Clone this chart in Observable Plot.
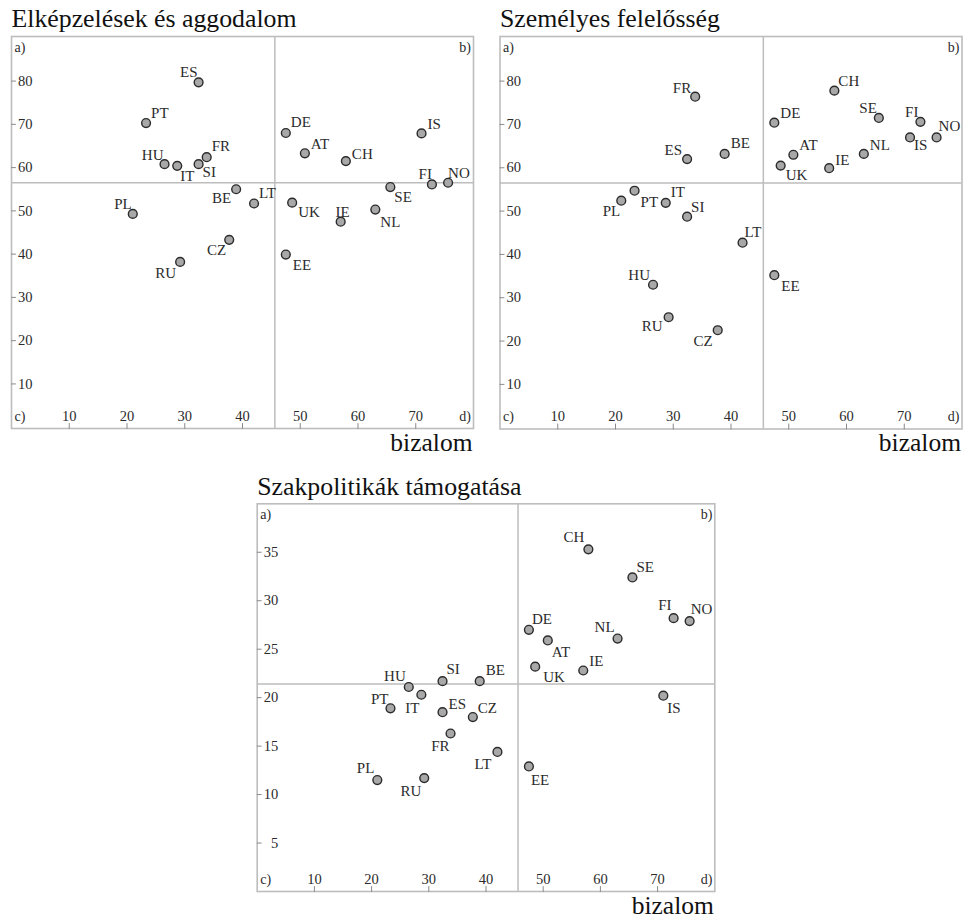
<!DOCTYPE html>
<html>
<head>
<meta charset="utf-8">
<script src="https://cdn.jsdelivr.net/npm/d3@7"></script>
<script src="https://cdn.jsdelivr.net/npm/@observablehq/plot@0.6"></script>
<style>
  html, body { margin: 0; padding: 0; background: #fff; }
  #chart { position: relative; width: 963px; height: 921px; overflow: hidden; background: #fff; }
  #chart svg { position: absolute; overflow: visible; max-width: none; }
</style>
</head>
<body>
<div id="chart"></div>
<script>
// ---- data ----
const countries = ["PL","PT","HU","IT","RU","ES","SI","FR","CZ","BE","LT","EE","DE","UK","AT","IE","CH","NL","SE","IS","FI","NO"];
const trust =          [21.0,23.3,26.5,28.7,29.2,32.4,32.4,33.8,37.7,38.9,42.0,47.5,47.5,48.6,50.8,57.0,57.9,63.0,65.6,71.0,72.8,75.6];
const concern =        [49.3,70.3,60.8,60.4,38.2,79.7,60.8,62.4,43.3,55.0,51.7,39.9,68.0,51.9,63.3,47.5,61.5,50.3,55.5,67.9,56.1,56.5];
const responsibility = [52.4,54.7,33.0,51.9,25.5,62.0,48.7,76.4,22.5,63.2,42.7,35.2,70.4,60.5,63.0,59.9,77.8,63.2,71.5,67.0,70.6,67.0];
const support =        [11.5,18.9,21.1,20.3,11.7,18.5,21.7,16.3,18.0,21.7,14.4,12.9,27.0,23.2,25.9,22.8,35.3,26.1,32.4,20.2,28.2,27.9];

const titles = ["Elképzelések és aggodalom", "Személyes felelősség", "Szakpolitikák támogatása"];
const xLabel = "bizalom";
const xTicks = [10,20,30,40,50,60,70];
const yTicksA = [10,20,30,40,50,60,70,80];
const yTicksC = [5,10,15,20,25,30,35];
const quadrantLabels = ["a)","b)","c)","d)"];
// quadrant split lines
const splitX = 45.6;
const splitYA = 56.5, splitYB = 56.5, splitYC = 21.4;

// ---- label placement (dx, dy to baseline, anchor) ----
const offA = {ES:[-1,-5,"end"],PT:[5,-5,"start"],HU:[-1,-4,"end"],IT:[3,15,"start"],SI:[4,13,"start"],FR:[5,-6,"start"],
  BE:[-5,14,"end"],LT:[5,-6,"start"],PL:[-1,-5,"end"],RU:[-4,16,"end"],CZ:[-3,15,"end"],DE:[5,-6,"start"],AT:[6,-4,"start"],
  CH:[6,-2,"start"],IS:[6,-4,"start"],FI:[0,-5,"end"],NO:[0,-5,"start"],SE:[4,15,"start"],UK:[6,14,"start"],IE:[2,-5,"middle"],
  NL:[5,17,"start"],EE:[7,15,"start"]};
const offB = {FR:[-4,-4,"end"],ES:[-5,-4,"end"],BE:[6,-6,"start"],CH:[4,-5,"start"],DE:[6,-5,"start"],SE:[-2,-5,"end"],
  FI:[-2,-5,"end"],NO:[2,-6,"start"],IS:[4,13,"start"],AT:[6,-5,"start"],UK:[5,14,"start"],IE:[6,-3,"start"],NL:[6,-4,"start"],
  PL:[-1,15,"end"],PT:[6,16,"start"],IT:[5,-6,"start"],SI:[4,-5,"start"],LT:[2,-6,"start"],HU:[-3,-5,"end"],EE:[7,16,"start"],
  RU:[-6,14,"end"],CZ:[-5,16,"end"]};
const offC = {CH:[-4,-7,"end"],SE:[4,-5,"start"],FI:[-2,-8,"end"],NO:[1,-7,"start"],DE:[3,-6,"start"],AT:[4,17,"start"],
  NL:[-3,-7,"end"],UK:[8,15,"start"],IE:[6,-5,"start"],HU:[-3,-6,"end"],SI:[4,-7,"start"],BE:[6,-6,"start"],IT:[-2,18,"end"],
  IS:[4,17,"start"],PT:[-2,-4,"end"],ES:[6,-3,"start"],CZ:[5,-4,"start"],FR:[-1,17,"end"],LT:[-6,17,"end"],EE:[2,19,"start"],
  PL:[-3,-7,"end"],RU:[-3,18,"end"]};

const FONT = "Liberation Serif";
const GRID = "#bdbdbd";
const INK = "#2b2b2b";
const tickLine = {draw(ctx, l) { ctx.moveTo(0, 0); ctx.lineTo(0, -l); }};

function panel({values, yDomain, yTicks, splitY, offsets, title, left, top, width, height, margin}) {
  const rows = countries.map((c, i) => ({code: c, trust: trust[i], v: values[i]}));
  const labelMarks = rows.map(r => {
    const [dx, dy, anchor] = offsets[r.code];
    return Plot.text([r], {x: "trust", y: "v", text: "code", dx, dy, textAnchor: anchor, lineAnchor: "bottom",
      fontSize: 15, fill: INK, fontFamily: FONT});
  });
  const svg = Plot.plot({
    width, height,
    marginLeft: margin[3], marginRight: margin[1], marginTop: margin[0], marginBottom: margin[2],
    style: {background: "transparent", overflow: "visible", fontFamily: FONT},
    x: {domain: [0, 80], axis: null},
    y: {domain: yDomain, axis: null},
    marks: [
      Plot.ruleX([splitX], {stroke: GRID, strokeWidth: 1.5}),
      Plot.ruleY([splitY], {stroke: GRID, strokeWidth: 1.5}),
      Plot.frame({stroke: GRID, strokeWidth: 1.6}),
      // y ticks (inside, left) and labels
      Plot.vector(yTicks, {y: d => d, frameAnchor: "left", rotate: 90, length: 4, anchor: "start", shape: tickLine, stroke: "#8a8a8a", strokeWidth: 1}),
      Plot.text(yTicks, {y: d => d, frameAnchor: "left", text: d => String(d), dx: 21, textAnchor: "end", lineAnchor: "middle", fontSize: 14.5, fill: INK, fontFamily: FONT}),
      // x ticks (inside, bottom) and labels
      Plot.vector(xTicks, {x: d => d, frameAnchor: "bottom", rotate: 0, length: 5, anchor: "start", shape: tickLine, stroke: "#8a8a8a", strokeWidth: 1}),
      Plot.text(xTicks, {x: d => d, frameAnchor: "bottom", text: d => String(d), dy: -8, textAnchor: "middle", lineAnchor: "bottom", fontSize: 14.5, fill: INK, fontFamily: FONT}),
      // quadrant letters
      Plot.text([quadrantLabels[0]], {text: d => d, frameAnchor: "top-left", dx: 3, dy: 15, textAnchor: "start", lineAnchor: "bottom", fontSize: 14, fill: INK, fontFamily: FONT}),
      Plot.text([quadrantLabels[1]], {text: d => d, frameAnchor: "top-right", dx: -2.5, dy: 15, textAnchor: "end", lineAnchor: "bottom", fontSize: 14, fill: INK, fontFamily: FONT}),
      Plot.text([quadrantLabels[2]], {text: d => d, frameAnchor: "bottom-left", dx: 3, dy: -8, textAnchor: "start", lineAnchor: "bottom", fontSize: 14, fill: INK, fontFamily: FONT}),
      Plot.text([quadrantLabels[3]], {text: d => d, frameAnchor: "bottom-right", dx: -2.5, dy: -8, textAnchor: "end", lineAnchor: "bottom", fontSize: 14, fill: INK, fontFamily: FONT}),
      // title and x label
      Plot.text([title], {text: d => d, frameAnchor: "top-left", dy: -9.3, textAnchor: "start", lineAnchor: "bottom", fontSize: 25.8, fill: "#111", fontFamily: FONT}),
      Plot.text([xLabel], {text: d => d, frameAnchor: "bottom-right", dy: 22, dx: -1, textAnchor: "end", lineAnchor: "bottom", fontSize: 25.5, fill: "#111", fontFamily: FONT}),
      // points
      Plot.dot(rows, {x: "trust", y: "v", r: 4.4, fill: "#a8a8a8", stroke: INK, strokeWidth: 1.4}),
      ...labelMarks
    ]
  });
  svg.style.left = left + "px";
  svg.style.top = top + "px";
  return svg;
}

const chart = document.getElementById("chart");
chart.appendChild(panel({values: concern, yDomain: [-0.3, 90.3], yTicks: yTicksA, splitY: splitYA, offsets: offA,
  title: titles[0], left: 0, top: 0, width: 480, height: 460, margin: [36, 7, 32, 11]}));
chart.appendChild(panel({values: responsibility, yDomain: [-0.3, 90.3], yTicks: yTicksA, splitY: splitYB, offsets: offB,
  title: titles[1], left: 480, top: 0, width: 483, height: 460, margin: [36, 1.5, 31.5, 19.5]}));
chart.appendChild(panel({values: support, yDomain: [0, 40], yTicks: yTicksC, splitY: splitYC, offsets: offC,
  title: titles[2], left: 250, top: 470, width: 480, height: 450, margin: [33.3, 15.7, 29, 6.7]}));
</script>
</body>
</html>
